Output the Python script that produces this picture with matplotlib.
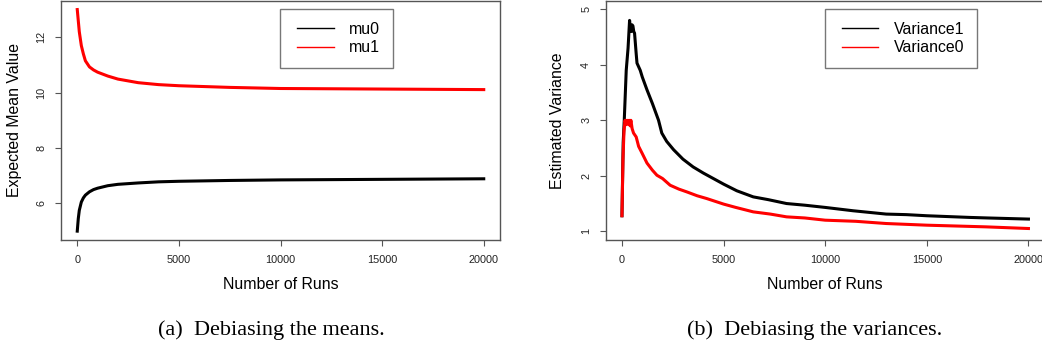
import matplotlib
matplotlib.use('Agg')
import matplotlib.pyplot as plt
from matplotlib.legend_handler import HandlerLine2D

# (a) means
runs_mu = [0, 50, 100, 200, 300, 400, 600, 800, 1000, 1500, 2000, 3000, 4000,
           5000, 7500, 10000, 12500, 15000, 17500, 20000]
mu0 = [5.0, 5.45, 5.75, 6.05, 6.2, 6.3, 6.42, 6.5, 6.55, 6.64, 6.69, 6.74, 6.78,
       6.80, 6.83, 6.85, 6.86, 6.87, 6.88, 6.89]
mu1 = [13.0, 12.6, 12.2, 11.7, 11.4, 11.15, 10.93, 10.82, 10.74, 10.6, 10.49, 10.36, 10.29,
       10.25, 10.19, 10.15, 10.14, 10.13, 10.12, 10.11]

# (b) variances
runs_v1 = [0, 60, 113, 210, 300, 375, 420, 460, 500, 540, 580, 620, 700, 740, 900, 1000,
           1230, 1500, 1800, 1960, 2200, 2540, 3000, 3500, 4000, 4500, 5000, 5650, 6460,
           7200, 8100, 9000, 10000, 11370, 13000, 14000, 15000, 17100, 18000, 20000]
var1 = [1.28, 2.6, 3.0, 3.9, 4.3, 4.8, 4.62, 4.6, 4.72, 4.7, 4.6, 4.57, 4.2, 4.03, 3.9, 3.78,
        3.55, 3.3, 3.0, 2.77, 2.62, 2.47, 2.3, 2.16, 2.05, 1.95, 1.85, 1.73, 1.62,
        1.57, 1.5, 1.47, 1.43, 1.37, 1.31, 1.30, 1.28, 1.25, 1.24, 1.22]
runs_v0 = [0, 50, 100, 150, 200, 250, 300, 350, 400, 440, 500, 570, 700, 820, 1000, 1230,
           1500, 1720, 2000, 2370, 2800, 3190, 3700, 4170, 5000, 5600, 6460, 7300, 8100,
           9000, 10000, 11500, 13000, 15000, 17900, 20000]
var0 = [1.28, 2.3, 2.8, 3.0, 2.92, 3.0, 2.93, 3.0, 2.9, 3.0, 2.85, 2.77, 2.7, 2.53, 2.4, 2.23,
        2.1, 2.01, 1.95, 1.83, 1.76, 1.71, 1.64, 1.59, 1.49, 1.43, 1.35, 1.31, 1.26,
        1.24, 1.2, 1.18, 1.14, 1.11, 1.08, 1.05]

plt.rcParams['font.family'] = ['Liberation Sans', 'DejaVu Sans']
W, H = 1042, 350
fig = plt.figure(figsize=(W / 100, H / 100), dpi=100)

gray = '#555555'


def style(ax):
    for s in ax.spines.values():
        s.set_color(gray)
        s.set_linewidth(1)
    ax.tick_params(colors=gray, labelcolor='#222222', length=4.5, width=0.8,
                   labelsize=7.8, pad=6)
    ax.tick_params(axis='y', labelrotation=90)
    for t in ax.get_yticklabels():
        t.set_va('center')
    ax.set_xlim(-800, 20800)
    ax.set_xticks([0, 5000, 10000, 15000, 20000])


ax1 = fig.add_axes([61 / W, 1 - 240 / H, 439 / W, 239.3 / H])
ax1.plot(runs_mu, mu0, color='black', lw=2.2, label='mu0')
ax1.plot(runs_mu, mu1, color='red', lw=2.2, label='mu1')
ax1.set_ylim(4.68, 13.32)
ax1.set_yticks([6, 8, 10, 12])
style(ax1)
ax1.set_xlabel('Number of Runs', fontsize=11.4, va='center')
ax1.xaxis.set_label_coords(0.5, -0.188)
ax1.set_ylabel('Expected Mean Value', fontsize=11.4, va='center')
ax1.yaxis.set_label_coords(-0.107, 0.5)

ax2 = fig.add_axes([605.7 / W, 1 - 240 / H, 439 / W, 239.3 / H])
ax2.plot(runs_v1, var1, color='black', lw=2.2, label='Variance1')
ax2.plot(runs_v0, var0, color='red', lw=2.2, label='Variance0')
ax2.set_ylim(0.843, 5.155)
ax2.set_yticks([1, 2, 3, 4, 5])
style(ax2)
ax2.set_xlabel('Number of Runs', fontsize=11.4, va='center')
ax2.xaxis.set_label_coords(0.5, -0.188)
ax2.set_ylabel('Estimated Variance', fontsize=11.4, va='center')
ax2.yaxis.set_label_coords(-0.109, 0.5)

for ax in (ax1, ax2):
    leg = ax.legend(loc='upper left', bbox_to_anchor=(0.499, 0.964), fontsize=11.4,
                    frameon=True, fancybox=False, borderpad=0.8, handlelength=2.58,
                    handletextpad=1.0, labelspacing=0.2, borderaxespad=0,
                    handler_map={plt.Line2D: HandlerLine2D(xpad=0.28)})
    leg.get_frame().set_edgecolor(gray)
    leg.get_frame().set_linewidth(1)
    for ln in leg.get_lines():
        ln.set_linewidth(1)

fig.text(271 / W, 1 - 330 / H, '(a)  Debiasing the means.', family='Liberation Serif',
         fontsize=16, ha='center', va='center')
fig.text(815 / W, 1 - 330 / H, '(b)  Debiasing the variances.', family='Liberation Serif',
         fontsize=16, ha='center', va='center')

fig.savefig('out.png', dpi=100)
